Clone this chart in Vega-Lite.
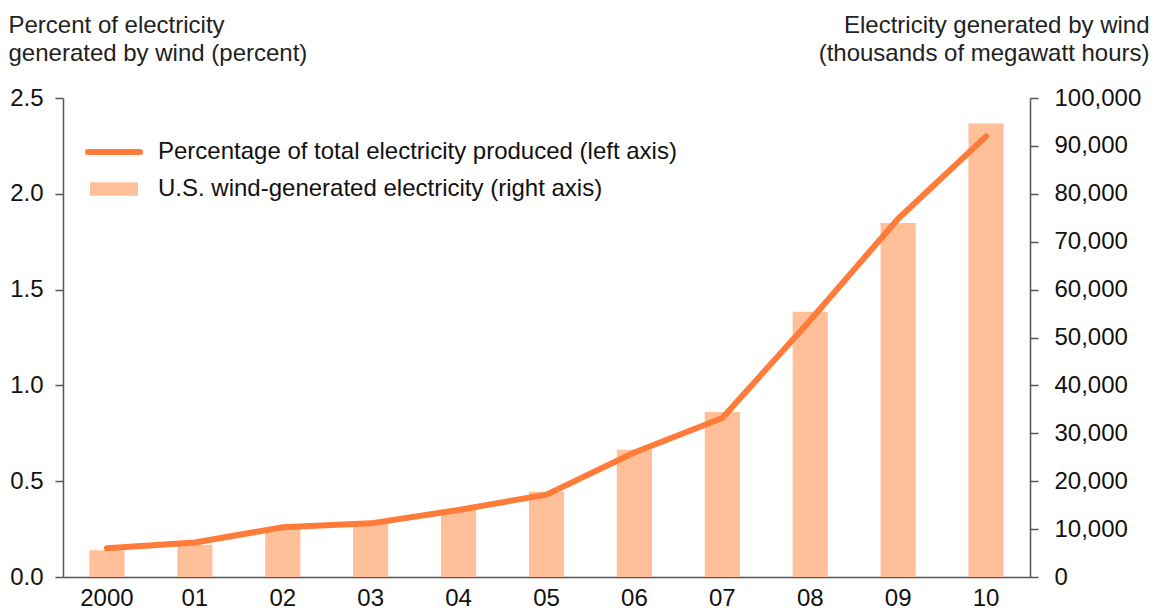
{
  "$schema": "https://vega.github.io/schema/vega-lite/v6.json",
  "width": 967,
  "height": 479,
  "autosize": {"type": "none"},
  "padding": {"left": 63, "top": 98, "right": 124, "bottom": 33},
  "background": "white",
  "config": {
    "view": {"stroke": null},
    "font": "Liberation Sans",
    "axis": {"grid": false, "labelFont": "Liberation Sans", "titleFont": "Liberation Sans", "labelColor": "#111111", "titleColor": "#222222", "labelFontSize": 24, "titleFontSize": 24, "domainColor": "#555555", "tickColor": "#555555", "domainWidth": 1.5, "tickWidth": 1.5},
    "legend": {"labelFont": "Liberation Sans", "labelFontSize": 24, "labelColor": "#111111", "padding": 0, "labelLimit": 0}
  },
  "data": {"values": [
    {"year": "2000", "pct": 0.15, "mwh": 5593},
    {"year": "01", "pct": 0.18, "mwh": 6737},
    {"year": "02", "pct": 0.26, "mwh": 10354},
    {"year": "03", "pct": 0.28, "mwh": 11187},
    {"year": "04", "pct": 0.35, "mwh": 14144},
    {"year": "05", "pct": 0.43, "mwh": 17811},
    {"year": "06", "pct": 0.65, "mwh": 26589},
    {"year": "07", "pct": 0.83, "mwh": 34450},
    {"year": "08", "pct": 1.34, "mwh": 55363},
    {"year": "09", "pct": 1.87, "mwh": 73886},
    {"year": "10", "pct": 2.30, "mwh": 94652}
  ]},
  "encoding": {
    "x": {"field": "year", "type": "ordinal", "sort": null, "title": null,
      "scale": {"paddingInner": 0.6, "paddingOuter": 0.3},
      "axis": {"labelAngle": 0, "ticks": false, "labelPadding": 9, "domainColor": "#555555"}}
  },
  "layer": [
    {
      "mark": {"type": "bar"},
      "encoding": {
        "y": {"field": "mwh", "type": "quantitative",
          "scale": {"domain": [0, 100000], "nice": false},
          "axis": {"orient": "right", "format": ",.0f", "values": [0, 10000, 20000, 30000, 40000, 50000, 60000, 70000, 80000, 90000, 100000], "tickSize": 8, "labelPadding": 16,
            "title": ["Electricity generated by wind", "(thousands of megawatt hours)"], "titleAngle": 0, "titleAlign": "right", "titleBaseline": "alphabetic", "titleX": 119, "titleY": -66, "titleLineHeight": 28, "titleFontWeight": "normal"}},
        "fill": {"datum": "U.S. wind-generated electricity (right axis)", "type": "nominal",
          "scale": {"range": ["#FFBF98"]},
          "legend": {"orient": "none", "legendX": 27, "legendY": 67, "title": null, "symbolType": "M-1,-0.28L1,-0.28L1,0.28L-1,0.28Z", "symbolSize": 2304, "symbolStrokeWidth": 0, "labelOffset": 20}}
      }
    },
    {
      "mark": {"type": "line", "strokeWidth": 6, "strokeCap": "round", "strokeJoin": "round"},
      "encoding": {
        "y": {"field": "pct", "type": "quantitative",
          "scale": {"domain": [0, 2.5], "nice": false},
          "axis": {"orient": "left", "format": ".1f", "values": [0, 0.5, 1, 1.5, 2, 2.5], "tickSize": 8, "labelPadding": 12,
            "title": ["Percent of electricity", "generated by wind (percent)"], "titleAngle": 0, "titleAlign": "left", "titleBaseline": "alphabetic", "titleX": -55, "titleY": -66, "titleLineHeight": 28, "titleFontWeight": "normal"}},
        "stroke": {"datum": "Percentage of total electricity produced (left axis)", "type": "nominal",
          "scale": {"range": ["#FF7B3A"]},
          "legend": {"orient": "none", "legendX": 22, "legendY": 25, "title": null, "symbolType": "stroke", "symbolSize": 2704, "symbolStrokeWidth": 6, "labelOffset": 15,
            "encode": {"symbols": {"update": {"strokeCap": {"value": "round"}}}}}}
      }
    }
  ],
  "resolve": {"scale": {"y": "independent"}}
}
